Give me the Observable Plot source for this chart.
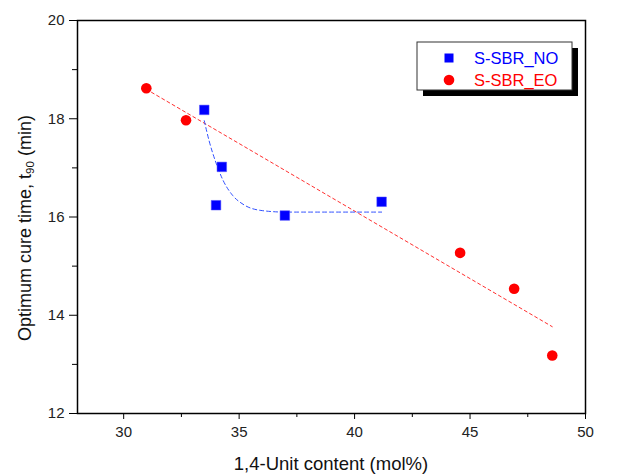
<!DOCTYPE html>
<html><head><meta charset="utf-8">
<script src="https://cdn.jsdelivr.net/npm/d3@7"></script>
<script src="https://cdn.jsdelivr.net/npm/@observablehq/plot@0.6"></script>
<style>body{margin:0;background:#fff}</style>
</head><body><div id="chart"></div>
<script>
// S-SBR_NO (blue squares)
const noX = [33.49, 34.25, 34.0, 36.98, 41.17];
const noY = [18.18, 17.02, 16.24, 16.03, 16.31];
// S-SBR_EO (red circles)
const eoX = [30.98, 32.70, 44.57, 46.91, 48.56];
const eoY = [18.62, 17.97, 15.27, 14.54, 13.18];
// blue fitted curve
const noFitX = [33.49, 33.7, 34.0, 34.3, 34.7, 35.2, 36.0, 37.0, 38.5, 41.17];
const noFitY = [17.96, 17.55, 17.1, 16.75, 16.45, 16.25, 16.13, 16.1, 16.1, 16.1];
const xTicks = [30, 35, 40, 45, 50];
const xMinor = [32.5, 37.5, 42.5, 47.5];
const yTicks = [12, 14, 16, 18, 20];
const yMinor = [13, 15, 17, 19];
const seriesNames = ["S-SBR_NO", "S-SBR_EO"];
const xLabel = "1,4-Unit content (mol%)";

const no = noX.map((x, i) => ({x, y: noY[i]}));
const eo = eoX.map((x, i) => ({x, y: eoY[i]}));
const noFit = noFitX.map((x, i) => ({x, y: noFitY[i]}));

const chart = Plot.plot({
  width: 632, height: 476,
  marginLeft: 77, marginRight: 47, marginTop: 20, marginBottom: 63,
  x: {domain: [28, 50]},
  y: {domain: [12, 20]},
  style: {fontFamily: "'Liberation Sans', Arial, sans-serif", fontSize: "15px", color: "#222", background: "#fff"},
  marks: [
    Plot.axisX(xTicks, {tickSize: 6, tickPadding: 7, label: null, fontSize: 15, stroke: "#000"}),
    Plot.axisX(xMinor, {tickSize: 4, tickFormat: () => "", label: null, stroke: "#000"}),
    Plot.axisY(yTicks, {tickSize: 8, tickPadding: 5, label: null, fontSize: 15, stroke: "#000"}),
    Plot.axisY(yMinor, {tickSize: 5, tickFormat: () => "", label: null, stroke: "#000"}),
    Plot.frame({stroke: "#000", strokeWidth: 1.5}),
    Plot.linearRegressionY(eo, {x: "x", y: "y", stroke: "#ff3030", strokeWidth: 1, strokeDasharray: "3,3", ci: 0}),
    Plot.line(noFit, {x: "x", y: "y", curve: "monotone-x", stroke: "#3050ff", strokeWidth: 1, strokeDasharray: "4,3"}),
    Plot.dot(no, {x: "x", y: "y", symbol: "square", fill: "#0000ff", stroke: "#5050ff", strokeWidth: 0.5, r: 5.4}),
    Plot.dot(eo, {x: "x", y: "y", fill: "#ff0000", r: 5.3})
  ]
});
document.getElementById("chart").append(chart);

const svg = d3.select(chart);
const FF = "'Liberation Sans', Arial, sans-serif";
// axis labels
svg.append("text").attr("x", 331).attr("y", 463).attr("text-anchor", "middle")
  .attr("dominant-baseline", "central").attr("font-size", 18.5).attr("fill", "#111")
  .attr("font-family", FF).text(xLabel);
const yl = svg.append("text").attr("transform", "translate(25,228) rotate(-90)")
  .attr("text-anchor", "middle").attr("dominant-baseline", "central")
  .attr("font-size", 18).attr("fill", "#111")
  .attr("font-family", FF);
yl.append("tspan").text("Optimum cure time, t");
yl.append("tspan").attr("font-size", 11.5).attr("dy", 5).text("90");
yl.append("tspan").attr("dy", -5).text(" (min)");

// legend
const lg = svg.append("g").attr("text-anchor", "start");
lg.append("rect").attr("x", 423).attr("y", 48).attr("width", 155).attr("height", 48).attr("fill", "#000");
lg.append("rect").attr("x", 417).attr("y", 42).attr("width", 155).attr("height", 48).attr("fill", "#fff").attr("stroke", "#333").attr("stroke-width", 1);
lg.append("rect").attr("x", 444.5).attr("y", 53.5).attr("width", 9).attr("height", 9).attr("fill", "#0000ff");
lg.append("circle").attr("cx", 449).attr("cy", 80).attr("r", 5.3).attr("fill", "#ff0000");
lg.append("text").attr("x", 474).attr("y", 58).attr("text-anchor", "start").attr("dominant-baseline", "central").attr("font-size", 16.5)
  .attr("fill", "#0000ff").attr("font-family", FF).text(seriesNames[0]);
lg.append("text").attr("x", 474).attr("y", 80).attr("text-anchor", "start").attr("dominant-baseline", "central").attr("font-size", 16.5)
  .attr("fill", "#ff0000").attr("font-family", FF).text(seriesNames[1]);
</script>
</body></html>
